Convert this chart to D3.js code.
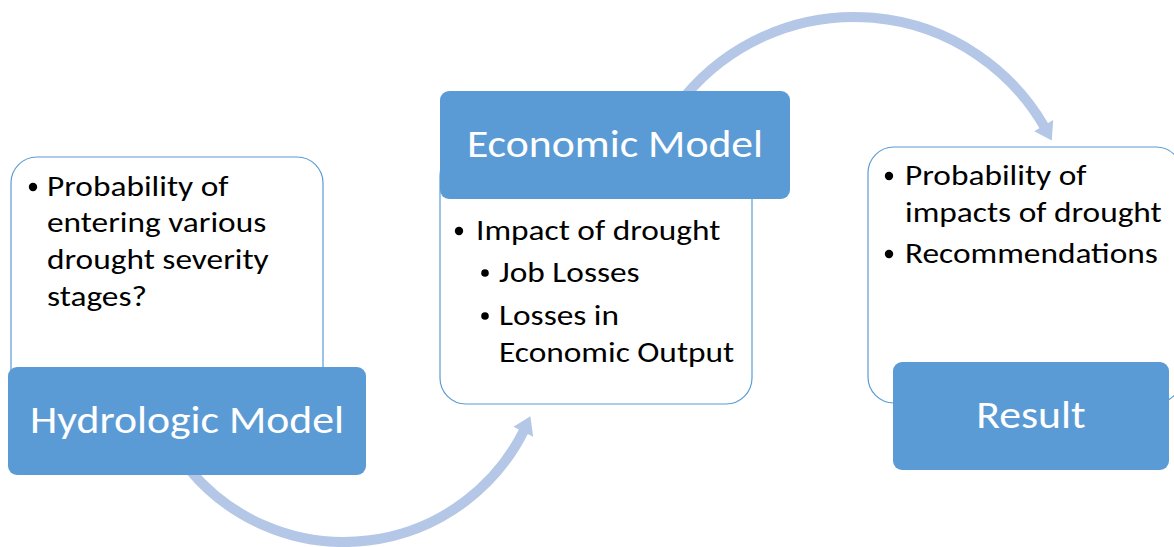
<!DOCTYPE html>
<html>
<head>
<meta charset="utf-8">
<script src="https://cdn.jsdelivr.net/npm/d3@7"></script>
<style>
  html, body { margin: 0; padding: 0; background: #fff; }
  svg { display: block; }
</style>
</head>
<body>
<div id="chart"></div>
<script>
// diagram content
const stageTitles = ["Hydrologic Model", "Economic Model", "Result"];
const stageNotes = [
    [{ level: 0, lines: ["Probability of", "entering various", "drought severity", "stages?"] }],
    [{ level: 0, lines: ["Impact of drought"] },
     { level: 1, lines: ["Job Losses"] },
     { level: 1, lines: ["Losses in", "Economic Output"] }],
    [{ level: 0, lines: ["Probability of", "impacts of drought"] },
     { level: 0, lines: ["Recommendations"] }]
];

// layout (pixels) for each stage: note box, title box, text placement
const layout = [
    { note: [11, 157, 323, 400], title: [8, 367, 366, 475], titleBase: 433,
      bulletX: [33, 33], textX: [47, 47], baselines: [[196, 232, 269, 306]] },
    { note: [440, 150, 752, 404], title: [440, 91, 790, 199], titleBase: 157,
      bulletX: [459, 485], textX: [476, 499], baselines: [[240], [282], [325, 362]] },
    { note: [868, 147, 1182, 403], title: [893, 362, 1169, 470], titleBase: 428,
      bulletX: [889, 889], textX: [905, 905], baselines: [[185, 222], [263]] }
];

// arrows: circle centre, radius, start angle, tip angle (degrees, y down)
const arrows = [
    { cx: 344, cy: 341, r: 201, from: 140, to: 22 },
    { cx: 854, cy: 237, r: 220, from: -140, to: -26 }
];

const width = 1174, height = 547;
const blue = "#5b9bd5", arrowBlue = "#b4c7e7";
const font = "Carlito, Calibri, Lato, sans-serif";
// Lato is narrower than Calibri, stretch it a bit
const stretch = 1.15;

const svg = d3.select("#chart").append("svg")
    .attr("width", width)
    .attr("height", height)
    .attr("viewBox", [0, 0, width, height]);

// curved arrows behind the boxes
const rad = d => d * Math.PI / 180;
const arrowG = svg.append("g");
arrows.forEach(a => {
    const dir = a.to > a.from ? 1 : -1;
    const headLen = 17, headHalf = 11;
    const baseAng = a.to - dir * headLen / a.r * 180 / Math.PI;
    const p = d3.path();
    p.arc(a.cx, a.cy, a.r, rad(a.from), rad(baseAng + dir * 0.5), dir < 0);
    arrowG.append("path")
        .attr("d", p.toString())
        .attr("fill", "none")
        .attr("stroke", arrowBlue)
        .attr("stroke-width", 10);

    const pt = (ang, rr) => [a.cx + rr * Math.cos(rad(ang)), a.cy + rr * Math.sin(rad(ang))];
    const tip = pt(a.to, a.r);
    const b1 = pt(baseAng, a.r - headHalf);
    const b2 = pt(baseAng, a.r + headHalf);
    arrowG.append("polygon")
        .attr("points", [tip, b1, b2].map(d => d.join(",")).join(" "))
        .attr("fill", arrowBlue);
});

// note boxes
const stage = svg.selectAll("g.stage")
    .data(stageTitles)
    .join("g")
    .attr("class", "stage");

stage.append("rect")
    .attr("x", (d, i) => layout[i].note[0])
    .attr("y", (d, i) => layout[i].note[1])
    .attr("width", (d, i) => layout[i].note[2] - layout[i].note[0])
    .attr("height", (d, i) => layout[i].note[3] - layout[i].note[1])
    .attr("rx", 26)
    .attr("fill", "#fff")
    .attr("stroke", blue)
    .attr("stroke-width", 1.2);

// bullet text
stage.each(function (d, i) {
    const g = d3.select(this);
    const L = layout[i];
    stageNotes[i].forEach((para, j) => {
        const bases = L.baselines[j];
        const bx = L.bulletX[para.level], tx = L.textX[para.level];
        g.append("circle")
            .attr("cx", bx)
            .attr("cy", bases[0] - 9)
            .attr("r", para.level ? 3.8 : 4.2)
            .attr("fill", "#000");
        para.lines.forEach((line, k) => {
            g.append("text")
                .attr("transform", `translate(${tx},${bases[k]}) scale(${stretch},1)`)
                .attr("font-family", font)
                .attr("font-size", 29)
                .attr("fill", "#000")
                .text(line);
        });
    });
});

// title boxes
stage.append("rect")
    .attr("x", (d, i) => layout[i].title[0])
    .attr("y", (d, i) => layout[i].title[1])
    .attr("width", (d, i) => layout[i].title[2] - layout[i].title[0])
    .attr("height", (d, i) => layout[i].title[3] - layout[i].title[1])
    .attr("rx", 9)
    .attr("fill", blue);

stage.append("text")
    .attr("transform", (d, i) =>
        `translate(${(layout[i].title[0] + layout[i].title[2]) / 2},${layout[i].titleBase}) scale(${stretch},1)`)
    .attr("text-anchor", "middle")
    .attr("font-family", font)
    .attr("font-size", 38)
    .attr("fill", "#fff")
    .text(d => d);
</script>
</body>
</html>
